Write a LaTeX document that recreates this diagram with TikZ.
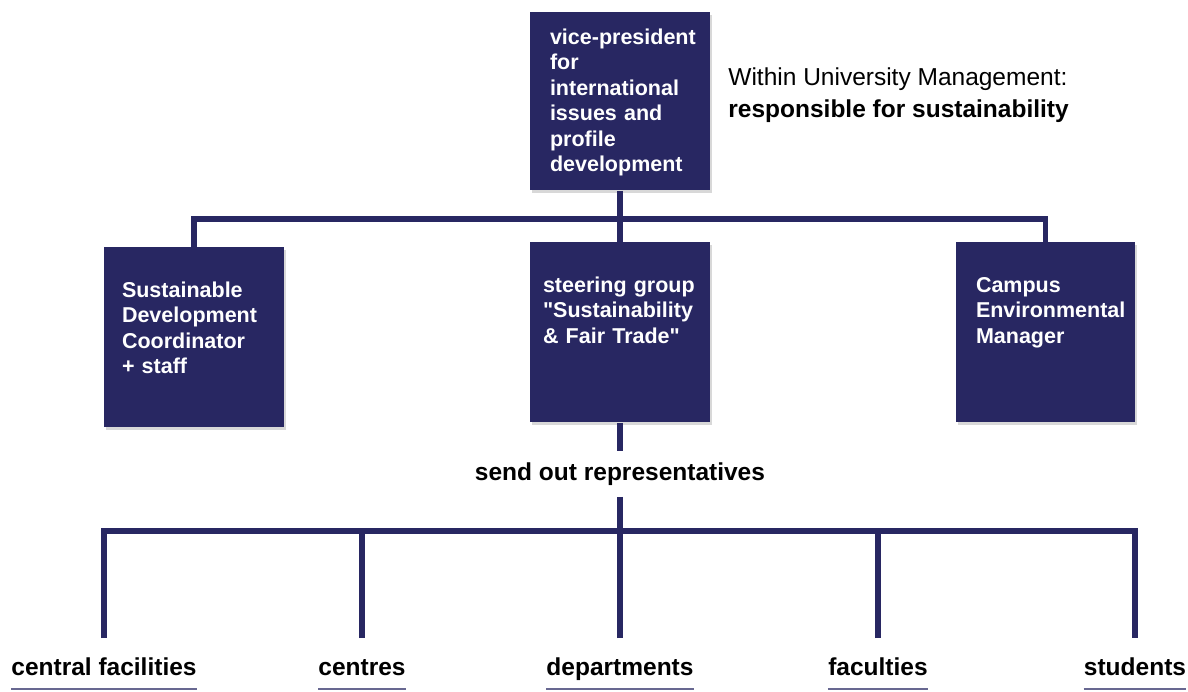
\documentclass[tikz,border=0pt]{standalone}
\usepackage{fontspec}
\setmainfont{Liberation Sans}
\usepackage{xcolor}
\usepackage{tikz}
\usetikzlibrary{positioning,shadows}
\definecolor{navy}{RGB}{40,39,98}

\begin{document}
\begin{tikzpicture}[x=0.5pt, y=-0.5pt,
    unit/.style={fill=navy, text=white, anchor=north, align=left,
      font=\bfseries\fontsize{10.75}{12.7}\selectfont,
      inner ysep=0pt, text height=25pt, text depth=65pt,
      drop shadow={shadow xshift=1pt, shadow yshift=-1.5pt, opacity=0.3}},
    link/.style={draw=navy, line width=2.8pt},
    group/.style={font=\bfseries\fontsize{12.25}{14}\selectfont, anchor=base, inner xsep=0pt},
    uline/.style={draw=navy!70, line width=1pt}]

        \fill[white] (0,0) rectangle (1188,691);
        \useasboundingbox (0,0) rectangle (1188,691);

        % Boxes
        \node[unit, text width=70pt, inner xsep=10pt, text height=16pt, text depth=73pt] (vp) at (620,12)
            {\mbox{vice-president}\\for\\international\\issues and\\profile\\development};
        \node[unit, text width=72pt, inner xsep=9pt] (sdc) at (194,247)
            {Sustainable\\Development\\Coordinator\\+ staff};
        \node[unit, text width=77pt, inner xsep=6.5pt] (steer) at (620,242)
            {steering group\\\textquotedbl Sustainability\\\& Fair Trade\textquotedbl};
        \node[unit, text width=69.5pt, inner xsep=10pt] (cem) at (1045.5,242)
            {Campus\\\mbox{Environmental}\\Manager};

        \node[anchor=west, align=left, inner xsep=0pt, font=\fontsize{12.25}{16}\selectfont] (note) at (728,95.5)
            {Within University Management:\\\textbf{responsible for sustainability}};

        \node[group, anchor=center, inner ysep=5.5pt] (send) at (620,474) {send out representatives};

        % Groups
        \node[group] (cf) at (104,675) {central facilities};
        \node[group] (ctr) at (362,675) {centres};
        \node[group] (dep) at (620,675) {departments};
        \node[group] (fac) at (878,675) {faculties};
        \node[group] (stu) at (1135,675) {students};

        % Lines
        \draw[link] (vp.south) -- (steer.north);
        \draw[link] (sdc.north) -- ++(0,-28) -| (cem.north);
        \draw[link] (steer.south) -- (send.north);
        \draw[link] ([yshift=18.5pt]cf.base) -- ++(0,-107) coordinate (bus) -| ([yshift=18.5pt]stu.base);
        \draw[link] (send.south) -- (send.south |- bus);
        \foreach \n in {ctr,dep,fac}
            \draw[link] ([yshift=18.5pt]\n.base) -- ++(0,-107);
        \foreach \n in {cf,ctr,dep,fac,stu}
            \draw[uline] ([yshift=-7pt]\n.base west) -- ([yshift=-7pt]\n.base east);

    \end{tikzpicture}
\end{document}
